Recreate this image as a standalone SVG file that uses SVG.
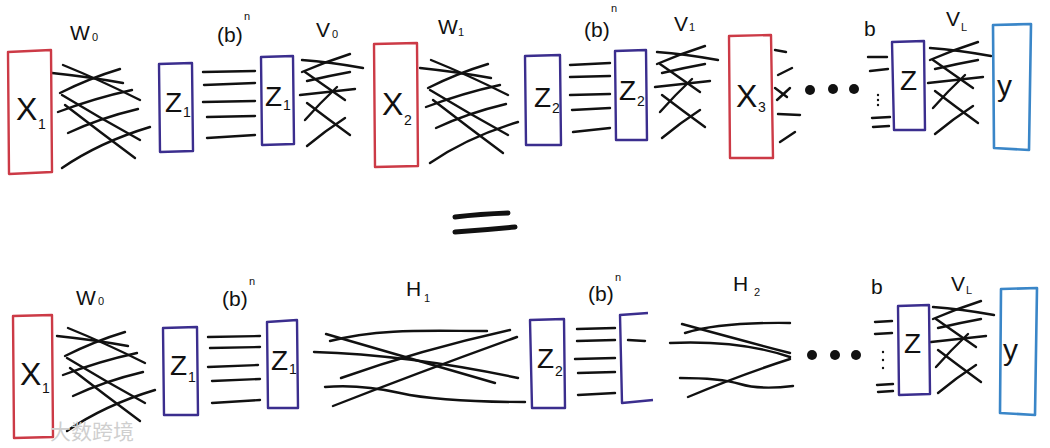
<svg xmlns="http://www.w3.org/2000/svg" width="1050" height="448" viewBox="0 0 1050 448">
<style>
.ln{fill:none;stroke:#111;stroke-width:2.4;stroke-linecap:round}
.red{fill:none;stroke:#cc3a46;stroke-width:2.4;stroke-linejoin:round}
.pur{fill:none;stroke:#3b2e8e;stroke-width:2.4;stroke-linejoin:round}
.blu{fill:none;stroke:#3a86c8;stroke-width:2.6;stroke-linejoin:round}
.bx{font-family:"Liberation Sans","DejaVu Sans",sans-serif;font-size:32px;fill:#111}
.bz{font-family:"Liberation Sans","DejaVu Sans",sans-serif;font-size:28px;fill:#111}
.by{font-family:"Liberation Sans","DejaVu Sans",sans-serif;font-size:30px;fill:#111}
.sb{font-family:"Liberation Sans","DejaVu Sans",sans-serif;font-size:14px;fill:#111}
.lb{font-family:"Liberation Sans","DejaVu Sans",sans-serif;font-size:21px;fill:#111}
.ls{font-family:"Liberation Sans","DejaVu Sans",sans-serif;font-size:11px;fill:#111}
.dot{fill:#111}
</style>
<defs>
<g id="wb">
<path d="M52,73 Q90,77 123,83"/>
<path d="M63,65 Q100,80 140,100"/>
<path d="M60,93 Q90,78 120,69"/>
<path d="M58,112 Q95,98 132,90"/>
<path d="M62,95 Q100,118 140,140"/>
<path d="M65,105 Q100,132 135,158"/>
<path d="M68,133 Q100,118 138,109"/>
<path d="M62,168 Q100,142 150,127"/>
</g>
<g id="vb">
<path d="M302,60 Q330,62 363,68"/>
<path d="M302,72 Q325,62 350,54"/>
<path d="M307,81 Q328,76 350,72"/>
<path d="M305,72 Q325,86 345,100"/>
<path d="M300,95 Q328,92 355,89"/>
<path d="M305,120 Q320,103 337,87"/>
<path d="M307,103 Q328,119 350,135"/>
<path d="M307,146 Q325,131 345,118"/>
</g>
</defs>
<rect width="1050" height="448" fill="#fff"/>

<g id="connectors" class="ln">
<!-- top row -->
<use href="#wb"/>
<g><path d="M203,72 L255,71"/><path d="M204,85 L255,83"/><path d="M203,102 L255,101"/><path d="M207,117 L255,116"/><path d="M207,138 L255,135"/></g>
<use href="#vb"/>
<use href="#wb" transform="translate(368,-5)"/>
<g><path d="M570,65 L610,63"/><path d="M570,77 L610,76"/><path d="M570,95 L610,94"/><path d="M572,110 L610,108"/><path d="M573,132 L610,128"/></g>
<use href="#vb" transform="translate(355,-8)"/>
<g><path d="M775,50 L786,52"/><path d="M778,75 L792,68"/><path d="M775,88 L787,97"/><path d="M777,100 L790,88"/><path d="M778,114 L800,115"/><path d="M780,142 L795,132"/></g>
<g><path d="M868,57 L887,57"/><path d="M870,71 L888,69"/><path d="M872,118 L890,117"/><path d="M873,127 L889,126"/></g>
<use href="#vb" transform="translate(628,-12)"/>
<!-- bottom row -->
<use href="#wb" transform="translate(5,263)"/>
<g><path d="M208,337 L260,336"/><path d="M210,348 L260,347"/><path d="M208,367 L258,365"/><path d="M212,381 L260,379"/><path d="M212,403 L260,400"/></g>
<g>
<path d="M330,341 C380,328 430,331 487,331"/>
<path d="M326,334 Q410,358 495,383"/>
<path d="M314,352 Q410,355 518,378"/>
<path d="M341,378 Q420,350 510,330"/>
<path d="M325,387 Q360,384 400,393 T525,402"/>
<path d="M333,406 Q420,372 517,337"/>
</g>
<g><path d="M577,329 L615,328"/><path d="M577,341 L615,340"/><path d="M575,359 L615,358"/><path d="M578,373 L615,372"/><path d="M578,395 L615,393"/></g>
<g>
<path d="M685,333 Q720,322 790,323"/>
<path d="M682,324 Q740,340 790,353"/>
<path d="M670,343 Q740,340 790,357"/>
<path d="M688,397 Q740,375 790,359"/>
<path d="M680,378 Q720,378 740,384 T793,386"/>
</g>
<g><path d="M875,322 L892,321"/><path d="M875,334 L892,333"/><path d="M877,385 L893,384"/><path d="M878,392 L893,391"/></g>
<use href="#vb" transform="translate(631,247)"/>
</g>

<!-- ellipses -->
<g id="dots-top"><circle class="dot" cx="810" cy="90" r="5"/><circle class="dot" cx="833" cy="89" r="5"/><circle class="dot" cx="854" cy="89" r="5"/>
<circle class="dot" cx="878" cy="95" r="1.2"/><circle class="dot" cx="878" cy="100" r="1.2"/><circle class="dot" cx="878" cy="105" r="1.2"/></g>
<g id="dots-bottom"><circle class="dot" cx="812" cy="355" r="5"/><circle class="dot" cx="835" cy="355" r="5"/><circle class="dot" cx="856" cy="355" r="5"/>
<circle class="dot" cx="883" cy="352" r="1.2"/><circle class="dot" cx="883" cy="360" r="1.2"/><circle class="dot" cx="883" cy="368" r="1.2"/></g>

<!-- top row nodes -->
<g id="x1-top"><path class="red" d="M8,52 L51,50 L52,172 L9,174 Z"/><text class="bx" x="16" y="120">X</text><text class="sb" x="38" y="129">1</text></g>
<g id="z1a-top"><path class="pur" d="M159,64 L192,63 L193,151 L160,152 Z"/><text class="bz" x="165" y="112">Z</text><text class="sb" x="183" y="117">1</text></g>
<g id="z1b-top"><path class="pur" d="M261,57 L293,56 L294,144 L262,145 Z"/><text class="bz" x="265" y="106">Z</text><text class="sb" x="283" y="110">1</text></g>
<g id="x2-top"><path class="red" d="M374,44 L417,43 L418,166 L375,167 Z"/><text class="bx" x="382" y="115">X</text><text class="sb" x="404" y="125">2</text></g>
<g id="z2a-top"><path class="pur" d="M525,56 L560,55 L561,145 L526,145 Z"/><text class="bz" x="534" y="107">Z</text><text class="sb" x="552" y="113">2</text></g>
<g id="z2b-top"><path class="pur" d="M615,51 L646,50 L647,140 L616,140 Z"/><text class="bz" x="619" y="100">Z</text><text class="sb" x="637" y="106">2</text></g>
<g id="x3-top"><path class="red" d="M729,36 L771,35 L773,158 L730,158 Z"/><text class="bx" x="736" y="107">X</text><text class="sb" x="758" y="112">3</text></g>
<g id="z-top"><path class="pur" d="M892,42 L924,41 L925,130 L894,130 Z"/><text class="bz" x="900" y="90">Z</text></g>
<g id="y-top"><path class="blu" d="M993,25 L1031,24 L1029,150 L994,148 Z"/><text class="by" x="997" y="96">y</text></g>

<!-- top labels -->
<g id="labels-top">
<text class="lb" x="70" y="40">W</text><text class="ls" x="92" y="41">0</text>
<text class="lb" x="217" y="42">(b)</text><text class="ls" x="244" y="20">n</text>
<text class="lb" x="316" y="37">V</text><text class="ls" x="332" y="38">0</text>
<text class="lb" x="438" y="34">W</text><text class="ls" x="458" y="36">1</text>
<text class="lb" x="584" y="37">(b)</text><text class="ls" x="611" y="12">n</text>
<text class="lb" x="674" y="31">V</text><text class="ls" x="689" y="31">1</text>
<text class="lb" x="864" y="36">b</text>
<text class="lb" x="946" y="26">V</text><text class="ls" x="961" y="31">L</text>
</g>

<!-- equals -->
<g id="equals" fill="none" stroke="#111" stroke-width="5" stroke-linecap="round"><path d="M455,217 Q480,214 508,213"/><path d="M455,232 Q485,230 515,227"/></g>

<!-- bottom row nodes -->
<g id="x1-bot"><path class="red" d="M13,316 L52,315 L53,437 L14,438 Z"/><text class="bx" x="20" y="385">X</text><text class="sb" x="42" y="393">1</text></g>
<g id="z1a-bot"><path class="pur" d="M163,328 L197,327 L198,415 L164,415 Z"/><text class="bz" x="170" y="375">Z</text><text class="sb" x="188" y="382">1</text></g>
<g id="z1b-bot"><path class="pur" d="M267,322 L297,320 L298,408 L268,408 Z"/><text class="bz" x="271" y="370">Z</text><text class="sb" x="289" y="374">1</text></g>
<g id="z2-bot"><path class="pur" d="M530,320 L564,319 L565,408 L532,408 Z"/><text class="bz" x="537" y="368">Z</text><text class="sb" x="555" y="376">2</text></g>
<g id="bracket-bot"><path class="pur" d="M648,313 L620,315 L622,403 L653,400"/><path class="ln" d="M628,340 L645,341"/></g>
<g id="z-bot"><path class="pur" d="M898,306 L929,305 L930,394 L899,395 Z"/><text class="bz" x="904" y="353">Z</text></g>
<g id="y-bot"><path class="blu" d="M1001,289 L1037,288 L1035,415 L1000,413 Z"/><text class="by" x="1003" y="360">y</text></g>

<!-- bottom labels -->
<g id="labels-bot">
<text class="lb" x="76" y="305">W</text><text class="ls" x="98" y="305">0</text>
<text class="lb" x="222" y="306">(b)</text><text class="ls" x="249" y="285">n</text>
<text class="lb" x="406" y="296">H</text><text class="ls" x="424" y="302">1</text>
<text class="lb" x="588" y="301">(b)</text><text class="ls" x="615" y="281">n</text>
<text class="lb" x="733" y="291">H</text><text class="ls" x="754" y="296">2</text>
<text class="lb" x="871" y="294">b</text>
<text class="lb" x="951" y="291">V</text><text class="ls" x="966" y="294">L</text>
</g>

<!-- watermark -->
<text x="50" y="439" font-family="'Noto Sans CJK SC',sans-serif" font-size="21" fill="#cfcfcf">大数跨境</text>
</svg>
